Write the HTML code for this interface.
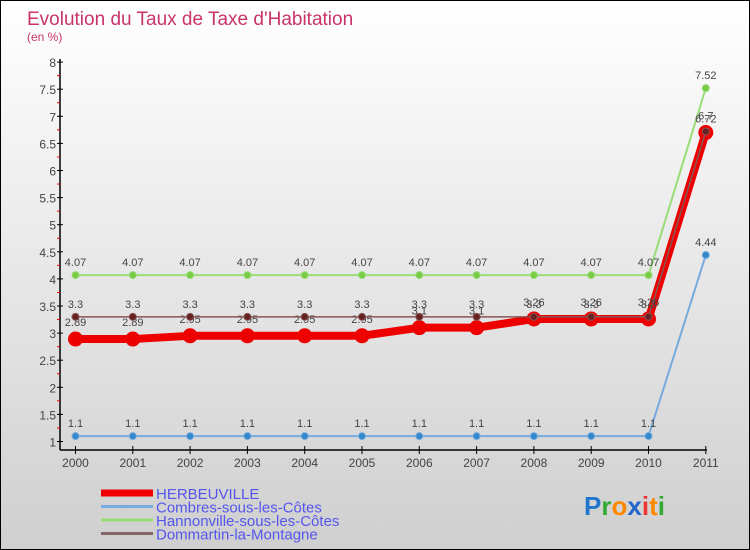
<!DOCTYPE html>
<html><head><meta charset="utf-8"><style>
body{margin:0}
#c{position:relative;width:748px;height:548px;border:1px solid #000;background:linear-gradient(#ffffff,#cfcfcf);font-family:"Liberation Sans",sans-serif;overflow:hidden}
</style></head><body>
<div id="c">
<svg id="s" width="748" height="548"></svg>
</div>
<script>
const years=["2000","2001","2002","2003","2004","2005","2006","2007","2008","2009","2010","2011"];
const herb=[2.89,2.89,2.95,2.95,2.95,2.95,3.1,3.1,3.26,3.26,3.26,6.70];
const combres=[1.1,1.1,1.1,1.1,1.1,1.1,1.1,1.1,1.1,1.1,1.1,4.44];
const hann=[4.07,4.07,4.07,4.07,4.07,4.07,4.07,4.07,4.07,4.07,4.07,7.52];
const domm=[3.3,3.3,3.3,3.3,3.3,3.3,3.3,3.3,3.3,3.3,3.3,6.72];
const yTicks=["1","1.5","2","2.5","3","3.5","4","4.5","5","5.5","6","6.5","7","7.5","8"];
const legend=["HERBEUVILLE","Combres-sous-les-Côtes","Hannonville-sous-les-Côtes","Dommartin-la-Montagne"];
const s=document.getElementById('s');const NS="http://www.w3.org/2000/svg";
const X=i=>74.5+57.3*i, Y=v=>440.5-(v-1)*54.2;
function mk(t,a,p){const e=document.createElementNS(NS,t);for(const k in a)e.setAttribute(k,a[k]);(p||s).appendChild(e);return e;}
let t=mk('text',{x:26,y:24,'font-size':19,fill:'#c8336a'});t.textContent="Evolution du Taux de Taxe d'Habitation";

t=mk('text',{x:26,y:40,'font-size':12,fill:'#c8336a'});t.textContent="(en %)";

mk('line',{x1:59,y1:58,x2:59,y2:449,stroke:'#000','stroke-width':1.5});
mk('line',{x1:59,y1:449,x2:706,y2:449,stroke:'#000','stroke-width':1.5});
yTicks.forEach(l=>{const v=+l,y=Y(v);mk('line',{x1:56,y1:y,x2:62,y2:y,stroke:'#000'});
 if(v<8)mk('line',{x1:56,y1:Y(v+0.25),x2:59,y2:Y(v+0.25),stroke:'#e00'});
 const e=mk('text',{x:55,y:y+5,'font-size':12,fill:'#444','text-anchor':'end'});e.textContent=l;
 });
years.forEach((l,i)=>{mk('line',{x1:X(i),y1:445,x2:X(i),y2:453,stroke:'#000'});
 const e=mk('text',{x:X(i),y:466,'font-size':12,fill:'#444','text-anchor':'middle'});e.textContent=l;
 });
function series(d,col,w,r,name,dot,dy){
 const g=mk('g',{});
 mk('polyline',{points:d.map((v,i)=>X(i)+','+Y(v)).join(' '),fill:'none',stroke:col,'stroke-width':w,'stroke-linejoin':'round'},g);
 d.forEach((v,i)=>{const c=mk('circle',{cx:X(i),cy:Y(v),r:r,fill:dot,stroke:col},g);
  
  const e=mk('text',{x:X(i),y:Y(v)+dy,'font-size':11,fill:'#444','text-anchor':'middle'},g);e.textContent=String(v);});
}
series(hann,'#99dd77',2,3.5,'hannonville-series','#77cc44',-9);
series(combres,'#77aadd',2,3.5,'combres-series','#3388cc',-9);
series(herb,'#ee0000',8,7,'herbeuville-series','#ee0000',-13);
series(domm,'#885555',1.5,3.5,'dommartin-series','#662222',-9);
const cols=['#ee0000','#77aadd','#99dd77','#886666'],ws=[7,3,3,3];
legend.forEach((l,i)=>{const y=492+i*13.5;mk('line',{x1:100,y1:y,x2:152,y2:y,stroke:cols[i],'stroke-width':ws[i]});
 const e=mk('text',{x:155,y:y+6,'font-size':15,fill:'#5555ee'});e.textContent=l;
 });
const lg=mk('text',{x:583,y:514,'font-size':26,'font-weight':'bold'});
[['P','#2277cc'],['r','#33aa33'],['o','#ff8800'],['x','#2266cc'],['i','#ee3333'],['t','#ff8800'],['i','#33aa33']].forEach(([c,f])=>{mk('tspan',{fill:f},lg).textContent=c;});
</script>
</body></html>
